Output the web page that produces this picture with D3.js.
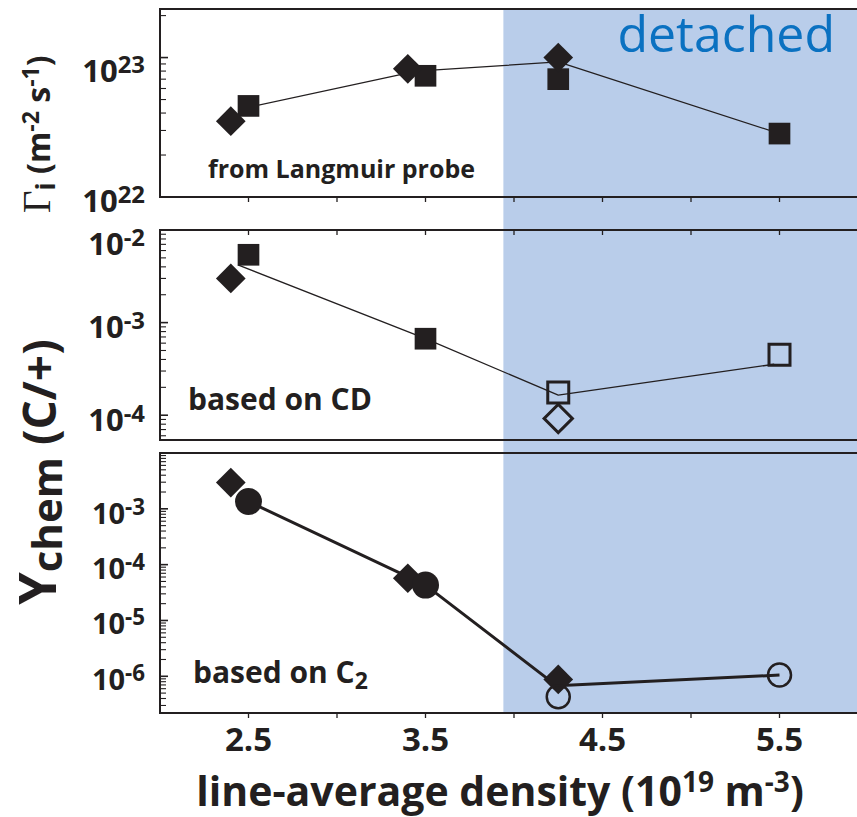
<!DOCTYPE html>
<html><head><meta charset="utf-8">
<script src="https://cdn.jsdelivr.net/npm/d3@7/dist/d3.min.js"></script>
<style>body{margin:0;background:#fff} svg{display:block}</style>
</head><body>
<script>
// ---------------- data ----------------
const xTickValues = [2.5, 3.0, 3.5, 4.0, 4.5, 5.0, 5.5, 6.0];
const xTickLabels = ["2.5", "3.5", "4.5", "5.5"];
const detachedFrom = [3.94];

// panel 1 : ion flux from Langmuir probe (m^-2 s^-1)
const p1DiamondX = [2.4, 3.4, 4.25];
const p1DiamondY = [3.5e22, 8.3e22, 1.0e23];
const p1SquareX = [2.5, 3.5, 4.25, 5.5];
const p1SquareY = [4.5e22, 7.4e22, 7.0e22, 2.85e22];
const p1LineX = [2.5, 3.45, 4.25, 5.5];
const p1LineY = [4.4e22, 8.0e22, 9.3e22, 2.85e22];
const p1YTicks = [1e22, 1e23];
const p1YExps = ["22", "23"];

// panel 2 : Ychem based on CD
const p2FilledDiamondX = [2.4];
const p2FilledDiamondY = [3.0e-3];
const p2FilledSquareX = [2.5, 3.5];
const p2FilledSquareY = [5.4e-3, 6.7e-4];
const p2OpenSquareX = [4.25, 5.5];
const p2OpenSquareY = [1.76e-4, 4.5e-4];
const p2OpenDiamondX = [4.25];
const p2OpenDiamondY = [9.2e-5];
const p2LineX = [2.44, 3.5, 4.25, 5.47];
const p2LineY = [4.2e-3, 6.7e-4, 1.65e-4, 3.55e-4];
const p2YTicks = [1e-2, 1e-3, 1e-4];
const p2YExps = ["-2", "-3", "-4"];

// panel 3 : Ychem based on C2
const p3FilledDiamondX = [2.4, 3.4, 4.25];
const p3FilledDiamondY = [2.95e-3, 5.7e-5, 8.8e-7];
const p3FilledCircleX = [2.5, 3.5];
const p3FilledCircleY = [1.35e-3, 4.3e-5];
const p3OpenCircleX = [4.25, 5.5];
const p3OpenCircleY = [4.3e-7, 1.05e-6];
const p3LineX = [2.5, 3.5, 4.24, 5.5];
const p3LineY = [1.35e-3, 4.3e-5, 6.8e-7, 1.05e-6];
const p3YTicks = [1e-3, 1e-4, 1e-5, 1e-6];
const p3YExps = ["-3", "-4", "-5", "-6"];

// ---------------- layout ----------------
const W = 857, H = 817;
const INK = "#231f20";
const FONT = "'Open Sans', 'Noto Sans', sans-serif";
const zip = (a, b) => a.map((v, i) => [v, b[i]]);

const svg = d3.select("body").append("svg")
  .attr("width", W).attr("height", H)
  .style("font-family", FONT);

const xLeft = 160, xRight = W;
const x = d3.scaleLinear().domain([2, 2 + 697 / 177]).range([xLeft, xRight]);

const panels = [
  { top: 9, bottom: 197, domain: [1e22, 2.23e23], ticks: p1YTicks, exps: p1YExps,
    labelDy: [15, 24], fs: 31, xTick: "down-bottom", lineW: 1.3 },
  { top: 230, bottom: 440, domain: [5.4e-5, 1e-2], ticks: p2YTicks, exps: p2YExps,
    labelDy: [25, 15, 16], fs: 31, xTick: "down-top", lineW: 1.3 },
  { top: 453, bottom: 713, domain: [2.2e-7, 1e-2], ticks: p3YTicks, exps: p3YExps,
    labelDy: [15, 14, 14, 14], fs: 29, xTick: "down-bottom", lineW: 3 }
];
panels.forEach(p => { p.y = d3.scaleLog().domain(p.domain).range([p.bottom, p.top]); });

// detached region
svg.append("rect")
  .attr("x", x(detachedFrom[0])).attr("y", panels[0].top)
  .attr("width", xRight - x(detachedFrom[0]))
  .attr("height", panels[2].bottom - panels[0].top)
  .attr("fill", "#b9cdea");

function logTicks(dom) {
  const out = [];
  const lo = Math.floor(Math.log10(dom[0])), hi = Math.ceil(Math.log10(dom[1]));
  for (let d = lo; d <= hi; d++) for (let k = 1; k <= 9; k++) {
    const v = k * Math.pow(10, d);
    if (v >= dom[0] * 0.999 && v <= dom[1] * 1.001) out.push({ v, major: k === 1 });
  }
  return out;
}

panels.forEach((p, pi) => {
  const g = svg.append("g");
  // frame
  g.append("line").attr("x1", xLeft).attr("x2", xRight).attr("y1", p.top).attr("y2", p.top)
    .attr("stroke", INK).attr("stroke-width", 2);
  g.append("line").attr("x1", xLeft).attr("x2", xRight).attr("y1", p.bottom).attr("y2", p.bottom)
    .attr("stroke", INK).attr("stroke-width", 2);
  g.append("line").attr("x1", xLeft).attr("x2", xLeft).attr("y1", p.top - 1).attr("y2", p.bottom + 1)
    .attr("stroke", INK).attr("stroke-width", 2);
  // y ticks (inward)
  g.selectAll(".yt").data(logTicks(p.domain)).join("line")
    .attr("x1", xLeft).attr("x2", d => xLeft + (d.major ? 8 : 6))
    .attr("y1", d => p.y(d.v)).attr("y2", d => p.y(d.v))
    .attr("stroke", INK).attr("stroke-width", d => d.major ? 1.6 : 1.1);
  // x ticks
  const ty = p.xTick === "down-top" ? p.top : p.bottom;
  g.selectAll(".xt").data(xTickValues.filter(v => x(v) <= xRight)).join("line")
    .attr("x1", d => x(d)).attr("x2", d => x(d))
    .attr("y1", ty).attr("y2", ty + 5)
    .attr("stroke", INK).attr("stroke-width", 1.3);
  // y tick labels
  p.ticks.forEach((v, i) => {
    const t = g.append("text")
      .attr("x", 145).attr("y", p.y(v) + p.labelDy[i])
      .attr("text-anchor", "end").attr("font-weight", 700)
      .attr("fill", INK).attr("font-size", p.fs);
    t.append("tspan").text("10");
    t.append("tspan").attr("font-size", p.fs * 0.77).attr("dy", -9).text(p.exps[i]);
  });
});

// series lines
const p1 = panels[0], p2 = panels[1], p3 = panels[2];
function drawLine(p, xs, ys) {
  svg.append("path")
    .attr("d", d3.line().x(d => x(d[0])).y(d => p.y(d[1]))(zip(xs, ys)))
    .attr("fill", "none").attr("stroke", INK).attr("stroke-width", p.lineW)
    .attr("stroke-linejoin", "round");
}
drawLine(p1, p1LineX, p1LineY);
drawLine(p2, p2LineX, p2LineY);
drawLine(p3, p3LineX, p3LineY);

// markers
function markers(p, xs, ys, type, size, filled, rot, sw) {
  svg.append("g").selectAll("path").data(zip(xs, ys)).join("path")
    .attr("d", d3.symbol().type(type).size(size)())
    .attr("transform", d => `translate(${x(d[0])},${p.y(d[1])}) rotate(${rot})`)
    .attr("fill", filled ? INK : "none")
    .attr("stroke", INK).attr("stroke-width", filled ? 0 : sw);
}
markers(p1, p1SquareX, p1SquareY, d3.symbolSquare, 470, true, 0);
markers(p1, p1DiamondX, p1DiamondY, d3.symbolSquare, 441, true, 45);

markers(p2, p2FilledSquareX, p2FilledSquareY, d3.symbolSquare, 470, true, 0);
markers(p2, p2FilledDiamondX, p2FilledDiamondY, d3.symbolSquare, 441, true, 45);
markers(p2, p2OpenSquareX, p2OpenSquareY, d3.symbolSquare, 441, false, 0, 3);
markers(p2, p2OpenDiamondX, p2OpenDiamondY, d3.symbolSquare, 400, false, 45, 3);

markers(p3, p3FilledDiamondX, p3FilledDiamondY, d3.symbolSquare, 441, true, 45);
markers(p3, p3FilledCircleX, p3FilledCircleY, d3.symbolCircle, Math.PI * 13.5 * 13.5, true, 0);
markers(p3, p3OpenCircleX, p3OpenCircleY, d3.symbolCircle, Math.PI * 11.5 * 11.5, false, 0, 2.5);

// annotations
svg.append("text").attr("x", 835).attr("y", 52).attr("text-anchor", "end")
  .attr("font-size", 50).attr("fill", "#0a71c1").text("detached");
svg.append("text").attr("x", 208).attr("y", 178).attr("font-size", 25)
  .attr("font-weight", 700).attr("fill", INK).text("from Langmuir probe");
svg.append("text").attr("x", 188).attr("y", 410).attr("font-size", 30)
  .attr("font-weight", 700).attr("fill", INK).text("based on CD");
const c2 = svg.append("text").attr("x", 193).attr("y", 683).attr("font-size", 30)
  .attr("font-weight", 700).attr("fill", INK);
c2.append("tspan").text("based on C");
c2.append("tspan").attr("font-size", 23).attr("dy", 6).text("2");

// x tick labels
svg.append("g").selectAll("text").data(xTickLabels).join("text")
  .attr("x", d => x(+d)).attr("y", 751).attr("text-anchor", "middle")
  .attr("font-size", 33).attr("font-weight", 700).attr("fill", INK).text(d => d);

// x label
const xl = svg.append("text").attr("x", 500).attr("y", 806).attr("text-anchor", "middle")
  .attr("font-size", 41).attr("font-weight", 700).attr("fill", INK);
xl.append("tspan").text("line-average density (10");
xl.append("tspan").attr("font-size", 28).attr("dy", -14).text("19");
xl.append("tspan").attr("dy", 14).text(" m");
xl.append("tspan").attr("font-size", 28).attr("dy", -14).text("-3");
xl.append("tspan").attr("dy", 14).text(")");

// y label panel 1
const yl1 = svg.append("text").attr("transform", "translate(50,213) rotate(-90)")
  .attr("fill", INK).attr("font-size", 32).attr("font-weight", 700);
yl1.append("tspan").attr("font-family", "'Liberation Serif', 'DejaVu Serif', serif")
  .attr("font-weight", 400).attr("font-size", 39).text("\u0393");
yl1.append("tspan").attr("font-size", 27).attr("dy", 5).text("i");
yl1.append("tspan").attr("dy", -5).text(" (m");
yl1.append("tspan").attr("font-size", 23).attr("dy", -11).text("-2");
yl1.append("tspan").attr("dy", 11).text(" s");
yl1.append("tspan").attr("font-size", 23).attr("dy", -11).text("-1");
yl1.append("tspan").attr("dy", 11).text(")");

// y label panels 2-3
const yl2 = svg.append("text").attr("transform", "translate(56,472) rotate(-90)")
  .attr("text-anchor", "middle").attr("fill", INK).attr("font-weight", 700).attr("font-size", 46);
yl2.append("tspan").attr("font-size", 52).text("Y");
yl2.append("tspan").attr("font-size", 42).attr("dy", 6).text("chem");
yl2.append("tspan").attr("dy", -6).text(" (C/+)");
</script>
</body></html>
